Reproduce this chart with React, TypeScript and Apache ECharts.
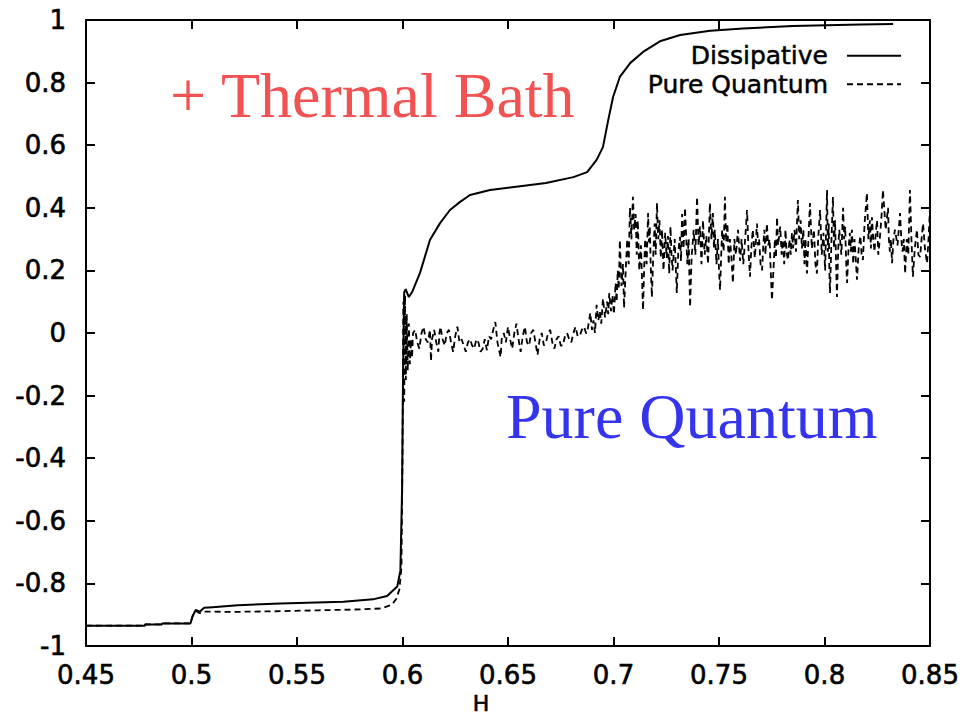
import React, { useEffect, useRef } from "react";
import * as echarts from "echarts";

// H axis ticks and magnetisation axis ticks
const xTicks = { min: 0.45, max: 0.85, interval: 0.05 };
const yTicks = { min: -1, max: 1, interval: 0.2 };

const seriesNames = ["Dissipative", "Pure Quantum"];

// Dissipative (solid) curve: [H, M]
const dissipative: number[][] = [
  [0.45, -0.935], [0.478, -0.935], [0.478, -0.931], [0.486, -0.931], [0.486, -0.928],
  [0.4995, -0.928], [0.5005, -0.905], [0.502, -0.885], [0.504, -0.89], [0.506, -0.878],
  [0.51, -0.876], [0.522, -0.87], [0.542, -0.864], [0.572, -0.859], [0.586, -0.851],
  [0.5927, -0.84], [0.5975, -0.81], [0.599, -0.76], [0.5998, -0.5], [0.6003, -0.1],
  [0.6008, 0.13], [0.6015, 0.14], [0.603, 0.115], [0.6045, 0.13], [0.6083, 0.192],
  [0.613, 0.297], [0.6178, 0.351], [0.6225, 0.393], [0.6273, 0.419], [0.632, 0.441],
  [0.6415, 0.457], [0.652, 0.466], [0.668, 0.479], [0.681, 0.498], [0.6875, 0.514],
  [0.692, 0.553], [0.695, 0.594], [0.6975, 0.68], [0.6998, 0.754], [0.703, 0.818],
  [0.708, 0.863], [0.714, 0.898], [0.722, 0.932], [0.7316, 0.952], [0.7458, 0.966],
  [0.7614, 0.973], [0.785, 0.981], [0.817, 0.986], [0.8325, 0.987],
];

// Pure Quantum (dashed) curve, below the jump
const quantumLow: number[][] = [
  [0.45, -0.935], [0.478, -0.935], [0.478, -0.931], [0.486, -0.931], [0.486, -0.928],
  [0.4995, -0.928], [0.5005, -0.905], [0.502, -0.888], [0.504, -0.895], [0.506, -0.89],
  [0.52, -0.891], [0.54, -0.889], [0.56, -0.886], [0.58, -0.883], [0.59, -0.88],
  [0.595, -0.868], [0.597, -0.85], [0.5985, -0.82], [0.5995, -0.75],
];

// Pure Quantum: noisy jump at H = 0.6
const quantumJump: number[][] = [
  [0.6, -0.4], [0.6004, 0.1], [0.6008, -0.22], [0.6012, 0.12], [0.6016, -0.15],
  [0.602, 0.06], [0.6025, -0.12], [0.603, 0.03], [0.6035, -0.1], [0.604, -0.02],
  [0.6045, -0.08], [0.605, 0.0],
];

// Pure Quantum: noisy plateau near zero
const quantumMid: number[][] = [
  [0.606, 0.01], [0.607, -0.03], [0.608, -0.05], [0.609, 0.0], [0.61, 0.02], [0.611, -0.02],
  [0.612, -0.03], [0.613, 0.01], [0.6135, -0.09], [0.614, -0.02], [0.615, 0.01], [0.616, -0.03],
  [0.617, -0.06], [0.6175, 0.0], [0.618, 0.02], [0.619, -0.02], [0.62, -0.04], [0.621, 0.0],
  [0.622, 0.01], [0.623, -0.03], [0.624, -0.06], [0.625, -0.01], [0.626, 0.02], [0.627, -0.03],
  [0.628, -0.02], [0.629, -0.04], [0.63, -0.06], [0.631, -0.03], [0.632, -0.02], [0.633, -0.04],
  [0.634, -0.05], [0.635, -0.02], [0.636, -0.03], [0.637, -0.06], [0.638, -0.05], [0.639, -0.02],
  [0.64, -0.055], [0.641, -0.01], [0.642, -0.02], [0.643, 0.01], [0.644, 0.035], [0.645, -0.03],
  [0.6465, -0.077], [0.647, -0.02], [0.648, 0.0], [0.649, -0.03], [0.65, 0.02], [0.651, -0.02],
  [0.652, -0.05], [0.653, 0.0], [0.654, 0.03], [0.655, -0.02], [0.656, -0.06], [0.657, -0.01],
  [0.658, 0.02], [0.659, -0.03], [0.66, -0.04], [0.661, 0.0], [0.662, 0.01], [0.663, -0.03],
  [0.664, -0.07], [0.665, -0.02], [0.666, 0.0], [0.667, -0.04], [0.668, -0.03], [0.669, 0.0],
  [0.67, 0.01], [0.671, -0.03], [0.672, -0.05], [0.673, -0.02], [0.674, -0.01], [0.675, -0.04],
  [0.676, -0.04], [0.677, -0.01], [0.678, 0.0], [0.679, -0.02], [0.68, -0.03], [0.681, 0.0],
  [0.682, 0.02], [0.683, -0.01], [0.684, -0.01], [0.685, 0.01], [0.686, 0.02], [0.687, 0.0],
];

// Pure Quantum: second rise and noisy upper plateau
const quantumHigh: number[][] = [
  [0.6875, 0.0], [0.6882, 0.03], [0.689, 0.064], [0.6898, 0.01], [0.6905, 0.04], [0.6912, 0.0],
  [0.692, 0.09], [0.6928, 0.04], [0.6935, 0.07], [0.6942, 0.03], [0.695, 0.11], [0.696, 0.05],
  [0.697, 0.1], [0.6975, 0.06], [0.698, 0.128], [0.6988, 0.07], [0.6995, 0.12], [0.7002, 0.06],
  [0.701, 0.16], [0.7015, 0.1], [0.702, 0.2], [0.7025, 0.14], [0.703, 0.297], [0.7038, 0.15],
  [0.7045, 0.22], [0.705, 0.08], [0.7058, 0.2], [0.7065, 0.3], [0.7072, 0.22], [0.7078, 0.4],
  [0.7085, 0.3], [0.7092, 0.435], [0.7098, 0.33], [0.7105, 0.38], [0.711, 0.25], [0.7115, 0.36],
  [0.7122, 0.2], [0.713, 0.28], [0.714, 0.073], [0.7145, 0.2], [0.715, 0.3], [0.7157, 0.22],
  [0.7164, 0.383], [0.7168, 0.29], [0.7172, 0.34], [0.7177, 0.2], [0.7182, 0.115], [0.7188, 0.24],
  [0.7195, 0.35], [0.72, 0.25], [0.7206, 0.415], [0.7212, 0.3], [0.7218, 0.36], [0.7224, 0.24],
  [0.723, 0.33], [0.7237, 0.2], [0.7245, 0.32], [0.7252, 0.24], [0.7258, 0.31], [0.7264, 0.19],
  [0.727, 0.34], [0.7275, 0.25], [0.728, 0.2], [0.729, 0.3], [0.73, 0.128], [0.7307, 0.26],
  [0.7315, 0.307], [0.732, 0.23], [0.7325, 0.38], [0.7332, 0.27], [0.7339, 0.4], [0.7345, 0.3],
  [0.735, 0.22], [0.7356, 0.3], [0.7363, 0.083], [0.737, 0.24], [0.738, 0.33], [0.7388, 0.25],
  [0.7396, 0.435], [0.7403, 0.28], [0.741, 0.34], [0.7417, 0.22], [0.7424, 0.36], [0.7432, 0.25],
  [0.744, 0.31], [0.7448, 0.22], [0.7457, 0.415], [0.7464, 0.3], [0.7471, 0.383], [0.7476, 0.27],
  [0.748, 0.33], [0.7488, 0.22], [0.7495, 0.3], [0.75, 0.2], [0.7505, 0.137], [0.751, 0.24],
  [0.7515, 0.33], [0.7522, 0.26], [0.7528, 0.435], [0.7534, 0.29], [0.754, 0.35], [0.7546, 0.22],
  [0.7552, 0.3], [0.7559, 0.24], [0.7566, 0.16], [0.7573, 0.3], [0.758, 0.25], [0.759, 0.33],
  [0.76, 0.23], [0.7607, 0.3], [0.7615, 0.22], [0.7624, 0.3], [0.7633, 0.393], [0.764, 0.26],
  [0.7647, 0.18], [0.7653, 0.27], [0.766, 0.33], [0.767, 0.24], [0.768, 0.35], [0.7685, 0.28],
  [0.769, 0.3], [0.7697, 0.22], [0.7704, 0.2], [0.771, 0.28], [0.7715, 0.33], [0.772, 0.25],
  [0.7727, 0.35], [0.7733, 0.28], [0.774, 0.3], [0.7745, 0.2], [0.7751, 0.105], [0.7758, 0.2],
  [0.7765, 0.3], [0.777, 0.24], [0.7775, 0.37], [0.778, 0.28], [0.779, 0.34], [0.7797, 0.25],
  [0.7803, 0.297], [0.7809, 0.22], [0.7815, 0.33], [0.782, 0.26], [0.7827, 0.233], [0.7834, 0.3],
  [0.784, 0.25], [0.7846, 0.32], [0.7851, 0.27], [0.7858, 0.33], [0.7865, 0.26], [0.787, 0.36],
  [0.7874, 0.425], [0.788, 0.3], [0.7887, 0.36], [0.7893, 0.27], [0.79, 0.33], [0.7905, 0.22],
  [0.791, 0.3], [0.7917, 0.19], [0.7924, 0.3], [0.7931, 0.415], [0.794, 0.27], [0.795, 0.33],
  [0.7957, 0.22], [0.7964, 0.19], [0.797, 0.3], [0.7979, 0.393], [0.7987, 0.25], [0.7995, 0.32],
  [0.8003, 0.2], [0.8012, 0.457], [0.8016, 0.26], [0.802, 0.35], [0.8023, 0.2], [0.8026, 0.128],
  [0.8033, 0.3], [0.804, 0.435], [0.8045, 0.27], [0.805, 0.36], [0.8055, 0.22], [0.8059, 0.115],
  [0.8065, 0.27], [0.807, 0.33], [0.808, 0.25], [0.8088, 0.4], [0.8093, 0.3], [0.8098, 0.34],
  [0.8103, 0.22], [0.8107, 0.16], [0.8114, 0.27], [0.812, 0.32], [0.8125, 0.26], [0.813, 0.33],
  [0.8136, 0.22], [0.8142, 0.3], [0.8148, 0.24], [0.8154, 0.17], [0.8162, 0.27], [0.817, 0.31],
  [0.8176, 0.25], [0.8182, 0.233], [0.819, 0.35], [0.8201, 0.447], [0.8208, 0.3], [0.8215, 0.36],
  [0.822, 0.27], [0.8225, 0.37], [0.8231, 0.3], [0.8237, 0.26], [0.8243, 0.32], [0.8249, 0.36],
  [0.8255, 0.25], [0.8262, 0.3], [0.827, 0.37], [0.8277, 0.457], [0.829, 0.33], [0.8301, 0.4],
  [0.8305, 0.3], [0.831, 0.26], [0.8315, 0.3], [0.832, 0.223], [0.8327, 0.3], [0.8334, 0.33],
  [0.8346, 0.28], [0.8358, 0.383], [0.8364, 0.3], [0.837, 0.26], [0.8376, 0.3], [0.8382, 0.19],
  [0.839, 0.3], [0.8397, 0.25], [0.8405, 0.457], [0.8412, 0.3], [0.8419, 0.18], [0.8428, 0.27],
  [0.8438, 0.33], [0.8445, 0.25], [0.8453, 0.243], [0.846, 0.3], [0.8467, 0.35], [0.8476, 0.27],
  [0.8486, 0.223], [0.8493, 0.3], [0.85, 0.4], [0.85, 0.2],
];

const quantum = [...quantumLow, ...quantumJump, ...quantumMid, ...quantumHigh];

const annotations = [
  { text: "+ Thermal Bath", color: "#f25252" },
  { text: "Pure Quantum", color: "#3434ee" },
];

const FONT = "DejaVu Sans";

export default function App() {
  const ref = useRef<HTMLDivElement>(null);

  useEffect(() => {
    if (!ref.current) return;
    const chart = echarts.init(ref.current, null, { renderer: "svg" });
    const fmt = (v: number) => String(Math.round(v * 100) / 100);
    const axisLine = { show: true, onZero: false, lineStyle: { color: "#000", width: 2 } };
    const tickStyle = { show: true, inside: true, length: 9, lineStyle: { color: "#000", width: 2 } };
    const labelStyle = {
      color: "#000",
      fontFamily: FONT,
      fontSize: 26,
      textBorderColor: "#000",
      textBorderWidth: 0.6,
    };

    chart.setOption({
      animation: false,
      backgroundColor: "#fff",
      grid: {
        left: 86,
        right: 42,
        top: 20,
        bottom: 69,
        containLabel: false,
        outerBoundsMode: "none",
      },
      xAxis: [
        {
          type: "value",
          ...xTicks,
          position: "bottom",
          axisLine,
          axisTick: tickStyle,
          splitLine: { show: false },
          axisLabel: { ...labelStyle, margin: 16, formatter: fmt },
          name: "H",
          nameLocation: "middle",
          nameGap: 46,
          nameMoveOverlap: false,
          nameTextStyle: { ...labelStyle, fontSize: 22, lineHeight: 22, padding: [0, 54, 0, 0] },
        },
        {
          type: "value",
          ...xTicks,
          position: "top",
          axisLine,
          axisTick: tickStyle,
          splitLine: { show: false },
          axisLabel: { show: false },
        },
      ],
      yAxis: [
        {
          type: "value",
          ...yTicks,
          position: "left",
          axisLine,
          axisTick: tickStyle,
          splitLine: { show: false },
          axisLabel: { ...labelStyle, margin: 20, formatter: fmt },
        },
        {
          type: "value",
          ...yTicks,
          position: "right",
          axisLine,
          axisTick: tickStyle,
          splitLine: { show: false },
          axisLabel: { show: false },
        },
      ],
      legend: {
        data: seriesNames,
        orient: "vertical",
        align: "right",
        right: 65,
        top: 38,
        itemWidth: 54,
        itemHeight: 14,
        itemGap: 3,
        itemStyle: { opacity: 0 },
        textStyle: {
          color: "#000",
          fontFamily: FONT,
          fontSize: 25,
          padding: [0, 14, 0, 0],
          textBorderColor: "#000",
          textBorderWidth: 0.5,
        },
      },
      series: [
        {
          name: seriesNames[0],
          type: "line",
          data: dissipative,
          symbol: "none",
          lineStyle: { color: "#000", width: 2 },
          itemStyle: { color: "#000" },
          z: 3,
        },
        {
          name: seriesNames[1],
          type: "line",
          data: quantum,
          symbol: "none",
          lineStyle: { color: "#000", width: 1.8, type: [6, 4] },
          itemStyle: { color: "#000" },
          z: 2,
        },
      ],
      graphic: [
        {
          type: "text",
          left: 170,
          top: 63,
          style: {
            text: annotations[0].text,
            fill: annotations[0].color,
            font: '64px "Liberation Serif"',
          },
        },
        {
          type: "text",
          left: 506,
          top: 384,
          style: {
            text: annotations[1].text,
            fill: annotations[1].color,
            font: '64px "Liberation Serif"',
          },
        },
      ],
    });
    return () => chart.dispose();
  }, []);

  return (
    <div
      ref={ref}
      style={{ position: "absolute", left: 0, top: 0, width: 972, height: 715 }}
    />
  );
}
